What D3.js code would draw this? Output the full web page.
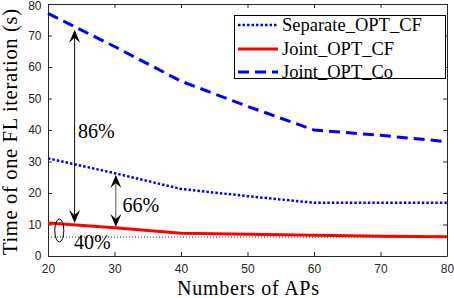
<!DOCTYPE html>
<html><head><meta charset="utf-8">
<script src="https://cdn.jsdelivr.net/npm/d3@7"></script>
<style>body{margin:0;background:#fff} svg{display:block}</style>
</head><body><svg id="c" width="454" height="298"></svg>
<script>
const xValues=[20,30,40,50,60,70,80];
const separateOptCF=[31,26.3,21.3,19,16.9,16.9,16.9];
const jointOptCF=[10.5,9,7.2,6.9,6.6,6.3,6.1];
const jointOptCo=[77,66.5,55.5,47.5,40,38.3,36.3];
const baselineLevel=[6];
const xTicks=[20,30,40,50,60,70,80];
const yTicks=[0,10,20,30,40,50,60,70,80];
const seriesNames=["Separate_OPT_CF","Joint_OPT_CF","Joint_OPT_Co"];
const arrowX=[24,30.2];
const arrowTop=[71.8,25.7];
const arrowBottom=[10.5,9.2];
const annotationLabels=["86%","66%","40%"];
const annotationX=[24.5,31.2,23.9];
const annotationY=[37.5,14,2.3];
const ellipseCenter=[21.7,8.1];

const svg=d3.select("#c");
const L=48,R=447,T=4,B=256;
const x=d3.scaleLinear().domain([20,80]).range([L,R]);
const y=d3.scaleLinear().domain([0,80]).range([B,T]);
const serif="'Liberation Serif','Times New Roman',serif";
const sans="'Liberation Sans',Arial,sans-serif";
const axisColor="#262626";

function styleAxis(g){
  g.select(".domain").attr("stroke",axisColor).attr("stroke-width",1);
  g.selectAll(".tick line").attr("stroke",axisColor).attr("stroke-width",1);
  g.selectAll(".tick text").attr("fill",axisColor).style("font-family",sans).style("font-size","12px");
}
svg.append("g").attr("transform",`translate(0,${B})`)
  .call(d3.axisBottom(x).tickValues(xTicks).tickSize(-4).tickSizeOuter(0).tickPadding(8))
  .call(styleAxis);
svg.append("g").attr("transform",`translate(0,${T})`)
  .call(d3.axisTop(x).tickValues(xTicks).tickSize(-4).tickSizeOuter(0).tickFormat(""))
  .call(styleAxis);
svg.append("g").attr("transform",`translate(${L},0)`)
  .call(d3.axisLeft(y).tickValues(yTicks).tickSize(-4).tickSizeOuter(0).tickPadding(6.5))
  .call(styleAxis)
  .call(g=>g.selectAll(".tick text").filter(d=>d===80).attr("y",1.5));
svg.append("g").attr("transform",`translate(${R},0)`)
  .call(d3.axisRight(y).tickValues(yTicks).tickSize(-4).tickSizeOuter(0).tickFormat(""))
  .call(styleAxis);

svg.append("line").attr("x1",x(20)).attr("x2",x(80)).attr("y1",y(baselineLevel[0])).attr("y2",y(baselineLevel[0]))
  .attr("stroke","#000").attr("stroke-width",0.8).attr("stroke-dasharray","1,2");

const line=d3.line().x((d,i)=>x(xValues[i])).y(d=>y(d));
const styles=[
  {data:separateOptCF,color:"#0000ff",w:2.5,dash:"2.5,2"},
  {data:jointOptCF,color:"#ff0000",w:3,dash:null},
  {data:jointOptCo,color:"#0000ff",w:3,dash:"11,6"}
];
styles.forEach(s=>{
  svg.append("path").attr("d",line(s.data)).attr("fill","none").attr("stroke",s.color)
    .attr("stroke-width",s.w).attr("stroke-dasharray",s.dash);
});

function head(px,py,dir){
  const l=13,w=5.5,n=8;
  return `M${px},${py} L${px-w},${py-dir*l} L${px},${py-dir*n} L${px+w},${py-dir*l} Z`;
}
const arrowColors=["#111","#555"];
arrowX.forEach((ax,i)=>{
  const px=x(ax);
  svg.append("line").attr("x1",px).attr("x2",px).attr("y1",y(arrowTop[i])+6).attr("y2",y(arrowBottom[i])-6)
    .attr("stroke",arrowColors[i]).attr("stroke-width",1);
  svg.append("path").attr("d",head(px,y(arrowTop[i]),-1)).attr("fill","#000");
  svg.append("path").attr("d",head(px,y(arrowBottom[i]),1)).attr("fill","#000");
});
svg.append("ellipse").attr("cx",x(ellipseCenter[0])).attr("cy",y(ellipseCenter[1])).attr("rx",4.5).attr("ry",11.5)
  .attr("fill","none").attr("stroke","#000").attr("stroke-width",1);
annotationLabels.forEach((t,i)=>{
  svg.append("text").attr("x",x(annotationX[i])).attr("y",y(annotationY[i])).text(t)
    .style("font-family",serif).style("font-size","20px").attr("fill","#000");
});

svg.append("text").attr("x",(L+R)/2+0.5).attr("y",295).attr("text-anchor","middle").text("Numbers of APs")
  .attr("textLength",142).attr("lengthAdjust","spacing")
  .style("font-family",serif).style("font-size","20px").attr("fill","#000");
svg.append("text").attr("transform",`translate(17,132) rotate(-90)`).attr("text-anchor","middle")
  .text("Time of one FL iteration (s)").attr("textLength",246).attr("lengthAdjust","spacing")
  .style("font-family",serif).style("font-size","20.5px").attr("fill","#000");

const lg=svg.append("g");
lg.append("rect").attr("x",234.5).attr("y",15.5).attr("width",211).attr("height",63)
  .attr("fill","#fff").attr("stroke","#000").attr("stroke-width",1);
const legY=[25,49,72];
seriesNames.forEach((n,i)=>{
  const s=styles[i];
  lg.append("line").attr("x1",238).attr("x2",278).attr("y1",legY[i]).attr("y2",legY[i])
    .attr("stroke",s.color).attr("stroke-width",s.w).attr("stroke-dasharray",s.dash);
  lg.append("text").attr("x",282).attr("y",legY[i]+6).text(n)
    .style("font-family",serif).style("font-size","18.5px").attr("fill","#000");
});
</script></body></html>
